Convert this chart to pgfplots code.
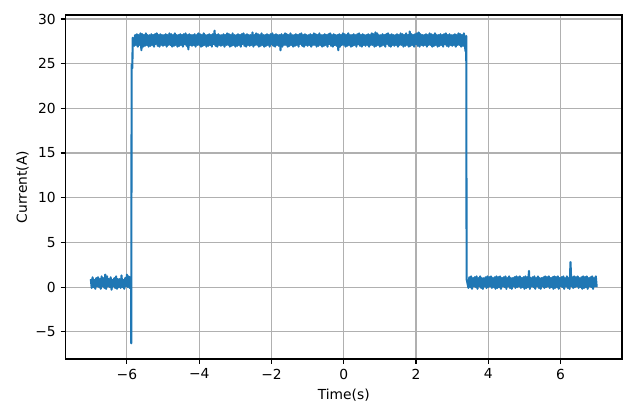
\documentclass[border=0pt]{standalone}
\usepackage{fontspec}
\setmainfont{DejaVu Sans}
\usepackage{pgfplots}
\pgfplotsset{compat=1.18}
\definecolor{mplblue}{HTML}{1F77B4}
\definecolor{mplgrid}{HTML}{B0B0B0}
\begin{document}
\begin{tikzpicture}
\path[use as bounding box] (-0.655in,-0.50in) rectangle (5.745in,3.59in);
\begin{axis}[
  at={(0,0)}, anchor=south west,
  scale only axis, width=5.565in, height=3.44in,
  xmin=-7.7, xmax=7.7, ymin=-8.05, ymax=30.45,
  xtick={-6,-4,-2,0,2,4,6}, xticklabels={−6,−4,−2,0,2,4,6},
  ytick={-5,0,5,10,15,20,25,30}, yticklabels={−5,0,5,10,15,20,25,30},
  grid=major, grid style={color=mplgrid, line width=0.8pt},
  axis line style={line width=0.8pt},
  tick align=outside, tick pos=left, major tick length=3.5pt,
  every tick/.style={black, line width=0.8pt},
  xlabel={Time(s)}, ylabel={Current(A)},
  ylabel style={yshift=-2pt},
  tick label style={font=\fontsize{10}{12}\selectfont},
  label style={font=\fontsize{10}{12}\selectfont},
]
\addplot[color=mplblue, line width=1.5pt, line join=round, mark=none] table[row sep=\\] {
x y\\
-7.000 0.9\\ -6.975 -0.1\\ -6.950 1.1\\ -6.925 0.0\\ -6.900 0.8\\ -6.875 -0.2\\ -6.850 1.0\\ -6.825 0.1\\
-6.800 1.1\\ -6.775 0.0\\ -6.750 0.9\\ -6.725 -0.2\\ -6.700 1.2\\ -6.675 0.1\\ -6.650 1.0\\ -6.625 -0.1\\
-6.600 1.4\\ -6.575 -0.2\\ -6.550 1.2\\ -6.525 0.1\\ -6.500 0.9\\ -6.475 0.0\\ -6.450 1.1\\ -6.425 -0.3\\
-6.400 0.8\\ -6.375 0.1\\ -6.350 1.0\\ -6.325 -0.1\\ -6.300 1.2\\ -6.275 -0.2\\ -6.250 0.9\\ -6.225 0.0\\
-6.200 0.9\\ -6.175 -0.1\\ -6.150 1.3\\ -6.125 0.0\\ -6.100 0.8\\ -6.075 -0.2\\ -6.050 1.0\\ -6.025 0.1\\
-6.000 1.4\\ -5.975 0.0\\ -5.950 1.2\\ -5.925 -0.1\\ -5.900 1.1\\
-5.885 0.3\\ -5.880 -6.3\\ -5.870 24.9\\ -5.850 24.5\\ -5.840 27.9\\
-5.800 27.0\\ -5.775 28.2\\ -5.750 27.1\\ -5.725 28.3\\ -5.700 26.9\\ -5.675 28.2\\ -5.650 27.1\\ -5.625 28.4\\
-5.600 26.5\\ -5.575 28.3\\ -5.550 26.9\\ -5.525 28.2\\ -5.500 27.0\\ -5.475 28.4\\ -5.450 27.1\\ -5.425 28.2\\
-5.400 26.9\\ -5.375 28.2\\ -5.350 27.0\\ -5.325 28.3\\ -5.300 27.1\\ -5.275 28.2\\ -5.250 26.9\\ -5.225 28.3\\
-5.200 27.2\\ -5.175 28.4\\ -5.150 27.0\\ -5.125 28.2\\ -5.100 26.9\\ -5.075 28.3\\ -5.050 27.1\\ -5.025 28.2\\
-5.000 27.0\\ -4.975 28.2\\ -4.950 27.1\\ -4.925 28.3\\ -4.900 26.9\\ -4.875 28.2\\ -4.850 27.1\\ -4.825 28.4\\
-4.800 27.1\\ -4.775 28.3\\ -4.750 26.9\\ -4.725 28.2\\ -4.700 27.0\\ -4.675 28.4\\ -4.650 27.1\\ -4.625 28.2\\
-4.600 26.9\\ -4.575 28.2\\ -4.550 27.0\\ -4.525 28.3\\ -4.500 27.1\\ -4.475 28.2\\ -4.450 26.9\\ -4.425 28.3\\
-4.400 27.2\\ -4.375 28.4\\ -4.350 27.0\\ -4.325 28.2\\ -4.300 26.6\\ -4.275 28.3\\ -4.250 27.1\\ -4.225 28.2\\
-4.200 27.0\\ -4.175 28.2\\ -4.150 27.1\\ -4.125 28.3\\ -4.100 26.9\\ -4.075 28.2\\ -4.050 27.1\\ -4.025 28.4\\
-4.000 27.1\\ -3.975 28.3\\ -3.950 26.9\\ -3.925 28.2\\ -3.900 27.0\\ -3.875 28.4\\ -3.850 27.1\\ -3.825 28.2\\
-3.800 26.9\\ -3.775 28.2\\ -3.750 27.0\\ -3.725 28.3\\ -3.700 27.1\\ -3.675 28.2\\ -3.650 26.9\\ -3.625 28.3\\
-3.600 27.2\\ -3.575 28.7\\ -3.550 27.0\\ -3.525 28.2\\ -3.500 26.9\\ -3.475 28.3\\ -3.450 27.1\\ -3.425 28.2\\
-3.400 27.0\\ -3.375 28.2\\ -3.350 27.1\\ -3.325 28.3\\ -3.300 26.9\\ -3.275 28.2\\ -3.250 27.1\\ -3.225 28.4\\
-3.200 27.1\\ -3.175 28.3\\ -3.150 26.9\\ -3.125 28.2\\ -3.100 27.0\\ -3.075 28.4\\ -3.050 27.1\\ -3.025 28.2\\
-3.000 26.9\\ -2.975 28.2\\ -2.950 27.0\\ -2.925 28.3\\ -2.900 27.1\\ -2.875 28.2\\ -2.850 26.9\\ -2.825 28.3\\
-2.800 27.2\\ -2.775 28.4\\ -2.750 27.0\\ -2.725 28.2\\ -2.700 26.9\\ -2.675 28.3\\ -2.650 27.1\\ -2.625 28.2\\
-2.600 27.0\\ -2.575 28.2\\ -2.550 27.1\\ -2.525 28.5\\ -2.500 26.9\\ -2.475 28.2\\ -2.450 27.1\\ -2.425 28.4\\
-2.400 27.1\\ -2.375 28.3\\ -2.350 26.9\\ -2.325 28.2\\ -2.300 27.0\\ -2.275 28.4\\ -2.250 27.1\\ -2.225 28.2\\
-2.200 26.9\\ -2.175 28.2\\ -2.150 27.0\\ -2.125 28.3\\ -2.100 27.1\\ -2.075 28.2\\ -2.050 26.9\\ -2.025 28.3\\
-2.000 27.2\\ -1.975 28.4\\ -1.950 27.0\\ -1.925 28.2\\ -1.900 26.9\\ -1.875 28.3\\ -1.850 27.1\\ -1.825 28.2\\
-1.800 27.0\\ -1.775 28.2\\ -1.750 26.5\\ -1.725 28.3\\ -1.700 26.9\\ -1.675 28.2\\ -1.650 27.1\\ -1.625 28.4\\
-1.600 27.1\\ -1.575 28.3\\ -1.550 26.9\\ -1.525 28.2\\ -1.500 27.0\\ -1.475 28.4\\ -1.450 27.1\\ -1.425 28.2\\
-1.400 26.9\\ -1.375 28.2\\ -1.350 27.0\\ -1.325 28.3\\ -1.300 27.1\\ -1.275 28.2\\ -1.250 26.9\\ -1.225 28.3\\
-1.200 27.2\\ -1.175 28.4\\ -1.150 27.0\\ -1.125 28.2\\ -1.100 26.9\\ -1.075 28.3\\ -1.050 27.1\\ -1.025 28.2\\
-1.000 27.0\\ -0.975 28.2\\ -0.950 27.1\\ -0.925 28.3\\ -0.900 26.9\\ -0.875 28.2\\ -0.850 27.1\\ -0.825 28.4\\
-0.800 27.1\\ -0.775 28.3\\ -0.750 26.9\\ -0.725 28.2\\ -0.700 27.0\\ -0.675 28.4\\ -0.650 27.1\\ -0.625 28.2\\
-0.600 26.9\\ -0.575 28.2\\ -0.550 27.0\\ -0.525 28.3\\ -0.500 27.1\\ -0.475 28.2\\ -0.450 26.9\\ -0.425 28.3\\
-0.400 27.2\\ -0.375 28.4\\ -0.350 27.0\\ -0.325 28.2\\ -0.300 26.9\\ -0.275 28.3\\ -0.250 27.1\\ -0.225 28.2\\
-0.200 27.0\\ -0.175 28.2\\ -0.150 26.5\\ -0.125 28.3\\ -0.100 26.9\\ -0.075 28.2\\ -0.050 27.1\\ -0.025 28.4\\
0.000 27.1\\ 0.025 28.3\\ 0.050 26.9\\ 0.075 28.2\\ 0.100 27.0\\ 0.125 28.4\\ 0.150 27.1\\ 0.175 28.2\\
0.200 26.9\\ 0.225 28.2\\ 0.250 27.0\\ 0.275 28.3\\ 0.300 27.1\\ 0.325 28.2\\ 0.350 26.9\\ 0.375 28.3\\
0.400 27.2\\ 0.425 28.4\\ 0.450 27.0\\ 0.475 28.2\\ 0.500 26.9\\ 0.525 28.3\\ 0.550 27.1\\ 0.575 28.2\\
0.600 27.0\\ 0.625 28.2\\ 0.650 27.1\\ 0.675 28.3\\ 0.700 26.9\\ 0.725 28.2\\ 0.750 27.1\\ 0.775 28.4\\
0.800 27.1\\ 0.825 28.3\\ 0.850 26.9\\ 0.875 28.5\\ 0.900 27.0\\ 0.925 28.4\\ 0.950 27.1\\ 0.975 28.2\\
1.000 26.9\\ 1.025 28.2\\ 1.050 27.0\\ 1.075 28.3\\ 1.100 27.1\\ 1.125 28.2\\ 1.150 26.9\\ 1.175 28.3\\
1.200 27.2\\ 1.225 28.4\\ 1.250 27.0\\ 1.275 28.2\\ 1.300 26.9\\ 1.325 28.3\\ 1.350 27.1\\ 1.375 28.2\\
1.400 27.0\\ 1.425 28.2\\ 1.450 27.1\\ 1.475 28.3\\ 1.500 26.9\\ 1.525 28.2\\ 1.550 27.1\\ 1.575 28.4\\
1.600 27.1\\ 1.625 28.3\\ 1.650 26.9\\ 1.675 28.2\\ 1.700 27.0\\ 1.725 28.4\\ 1.750 27.1\\ 1.775 28.2\\
1.800 26.9\\ 1.825 28.6\\ 1.850 27.0\\ 1.875 28.3\\ 1.900 27.1\\ 1.925 28.2\\ 1.950 26.9\\ 1.975 28.3\\
2.000 27.2\\ 2.025 28.4\\ 2.050 27.0\\ 2.075 28.5\\ 2.100 26.9\\ 2.125 28.3\\ 2.150 27.1\\ 2.175 28.2\\
2.200 27.0\\ 2.225 28.2\\ 2.250 27.1\\ 2.275 28.3\\ 2.300 26.9\\ 2.325 28.2\\ 2.350 27.1\\ 2.375 28.4\\
2.400 27.1\\ 2.425 28.3\\ 2.450 26.9\\ 2.475 28.2\\ 2.500 27.0\\ 2.525 28.4\\ 2.550 27.1\\ 2.575 28.2\\
2.600 26.9\\ 2.625 28.2\\ 2.650 27.0\\ 2.675 28.3\\ 2.700 27.1\\ 2.725 28.2\\ 2.750 26.9\\ 2.775 28.3\\
2.800 27.2\\ 2.825 28.4\\ 2.850 27.0\\ 2.875 28.2\\ 2.900 26.9\\ 2.925 28.3\\ 2.950 27.1\\ 2.975 28.2\\
3.000 27.0\\ 3.025 28.2\\ 3.050 27.1\\ 3.075 28.3\\ 3.100 26.9\\ 3.125 28.2\\ 3.150 27.1\\ 3.175 28.4\\
3.200 27.1\\ 3.225 28.3\\ 3.250 26.9\\ 3.275 28.2\\ 3.300 27.0\\ 3.325 28.4\\ 3.350 27.1\\
3.370 26.4\\ 3.390 28.1\\ 3.400 0.9\\
3.450 -0.1\\ 3.475 1.1\\ 3.500 0.0\\ 3.525 1.2\\ 3.550 -0.2\\ 3.575 1.0\\ 3.600 0.1\\ 3.625 1.1\\
3.650 0.0\\ 3.675 1.2\\ 3.700 -0.2\\ 3.725 1.0\\ 3.750 0.1\\ 3.775 1.2\\ 3.800 -0.1\\ 3.825 1.0\\
3.850 -0.2\\ 3.875 1.0\\ 3.900 0.1\\ 3.925 1.1\\ 3.950 -0.1\\ 3.975 1.2\\ 4.000 0.0\\ 4.025 1.1\\
4.050 0.1\\ 4.075 1.2\\ 4.100 -0.1\\ 4.125 1.0\\ 4.150 0.0\\ 4.175 1.1\\ 4.200 -0.2\\ 4.225 1.2\\
4.250 -0.1\\ 4.275 1.1\\ 4.300 0.0\\ 4.325 1.2\\ 4.350 -0.2\\ 4.375 1.0\\ 4.400 0.1\\ 4.425 1.1\\
4.450 0.0\\ 4.475 1.2\\ 4.500 -0.2\\ 4.525 1.0\\ 4.550 0.1\\ 4.575 1.2\\ 4.600 -0.1\\ 4.625 1.0\\
4.650 -0.2\\ 4.675 1.0\\ 4.700 0.1\\ 4.725 1.1\\ 4.750 -0.1\\ 4.775 1.2\\ 4.800 0.0\\ 4.825 1.1\\
4.850 0.1\\ 4.875 1.2\\ 4.900 -0.1\\ 4.925 1.0\\ 4.950 0.0\\ 4.975 1.1\\ 5.000 -0.2\\ 5.025 1.2\\
5.050 -0.1\\ 5.075 1.1\\ 5.100 0.0\\ 5.125 1.8\\ 5.150 -0.2\\ 5.175 1.0\\ 5.200 0.1\\ 5.225 1.1\\
5.250 0.0\\ 5.275 1.2\\ 5.300 -0.2\\ 5.325 1.0\\ 5.350 0.1\\ 5.375 1.2\\ 5.400 -0.1\\ 5.425 1.0\\
5.450 -0.2\\ 5.475 1.0\\ 5.500 0.1\\ 5.525 1.1\\ 5.550 -0.1\\ 5.575 1.2\\ 5.600 0.0\\ 5.625 1.1\\
5.650 0.1\\ 5.675 1.2\\ 5.700 -0.1\\ 5.725 1.0\\ 5.750 0.0\\ 5.775 1.1\\ 5.800 -0.2\\ 5.825 1.2\\
5.850 -0.1\\ 5.875 1.1\\ 5.900 0.0\\ 5.925 1.2\\ 5.950 -0.2\\ 5.975 1.0\\ 6.000 0.1\\ 6.025 1.1\\
6.050 0.0\\ 6.075 1.2\\ 6.100 -0.2\\ 6.125 1.0\\ 6.150 0.1\\ 6.175 1.2\\ 6.200 -0.1\\ 6.225 1.0\\
6.250 -0.2\\ 6.275 2.8\\ 6.300 0.1\\ 6.325 1.1\\ 6.350 -0.1\\ 6.375 1.2\\ 6.400 0.0\\ 6.425 1.1\\
6.450 0.1\\ 6.475 1.2\\ 6.500 -0.1\\ 6.525 1.0\\ 6.550 0.0\\ 6.575 1.1\\ 6.600 -0.2\\ 6.625 1.2\\
6.650 -0.1\\ 6.675 1.1\\ 6.700 0.0\\ 6.725 1.2\\ 6.750 -0.2\\ 6.775 1.0\\ 6.800 0.1\\ 6.825 1.1\\
6.850 0.0\\ 6.875 1.2\\ 6.900 -0.2\\ 6.925 1.0\\ 6.950 0.1\\ 6.975 1.2\\ 7.000 0.0\\
};
\end{axis}
\end{tikzpicture}
\end{document}
